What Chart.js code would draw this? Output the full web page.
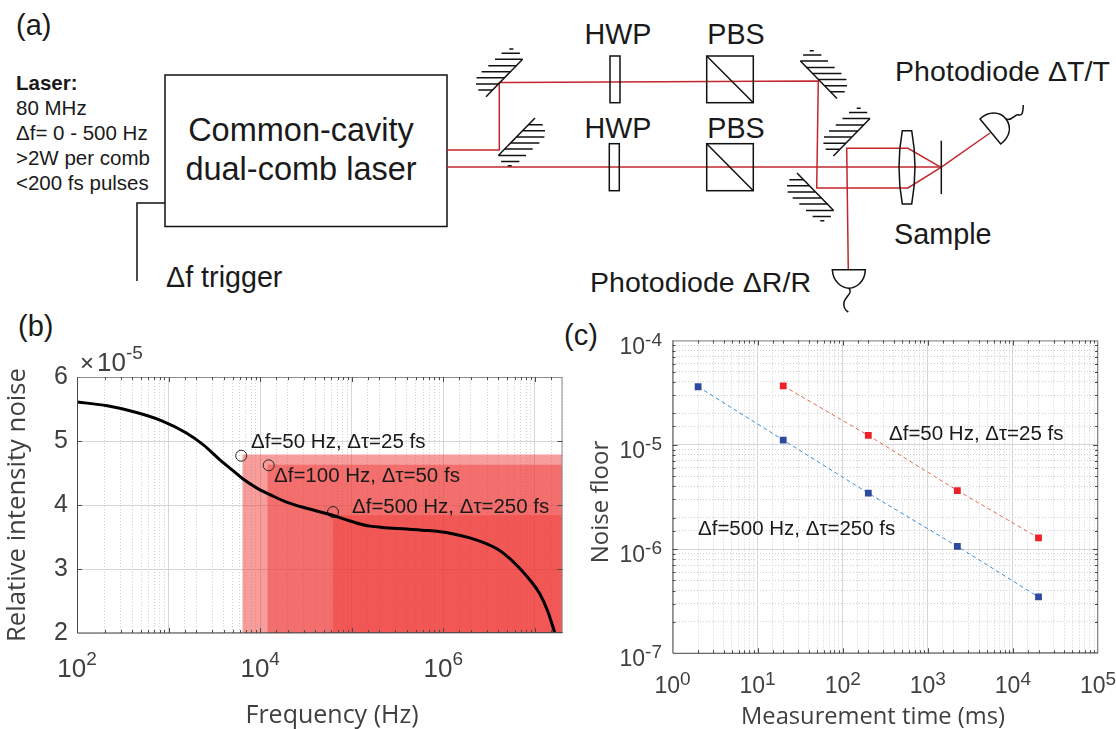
<!DOCTYPE html>
<html>
<head>
<meta charset="utf-8">
<title>Dual-comb laser noise</title>
<script src="https://cdn.jsdelivr.net/npm/chart.js@4/dist/chart.umd.min.js"></script>
<style>
  html, body { margin: 0; padding: 0; background: #fff; width: 1116px; height: 729px; overflow: hidden; }
  #sketch { position: absolute; left: 0; top: 0; }
  #sketch text { font-family: "Liberation Sans", Arial, sans-serif; fill: #1a1a1a; }
  #sketch .gear { fill: none; stroke: #111; stroke-width: 1.5; }
  #sketch .beam { fill: none; stroke: #c1272d; stroke-width: 1.5; }
  canvas { position: absolute; }
  #noiseChart { left: 0; top: 320px; }
  #floorChart { left: 565px; top: 310px; }
</style>
</head>
<body>

<svg id="sketch" width="1116" height="729" xmlns="http://www.w3.org/2000/svg">
  <defs>
    <g id="mirror" class="gear">
      <path d="M-18.3,18.7 L18.3,-18.7"/>
      <path d="M5,-29 h4 M-2.7,-24.7 h18.3 M-9.3,-18.7 h27.6 M-16,-12.3 h28.3 M-22.7,-6.3 h29 M-27.7,-0.3 h27.7 M-28.3,6 h22.3 M-26,12 h14"/>
    </g>
  </defs>

  <text x="16" y="35" font-size="29">(a)</text>
  <text x="18" y="336" font-size="29">(b)</text>
  <text x="564" y="345" font-size="29">(c)</text>

  <text x="16" y="90" font-size="20.5" font-weight="bold">Laser:</text>
  <text x="16" y="115" font-size="20.5">80 MHz</text>
  <text x="16" y="140" font-size="20.5">Δf= 0 - 500 Hz</text>
  <text x="16" y="165" font-size="20.5">&gt;2W per comb</text>
  <text x="16" y="190" font-size="20.5">&lt;200 fs pulses</text>

  <rect class="gear" x="165" y="75" width="282" height="151.5"/>
  <path class="gear" d="M165,203 H137 V281"/>
  <text x="301" y="141" font-size="32.5" text-anchor="middle">Common-cavity</text>
  <text x="301" y="180" font-size="32.5" text-anchor="middle">dual-comb laser</text>
  <text x="166" y="287" font-size="28.7">Δf trigger</text>

  <path class="beam" d="M447,150 H499.3 V82.5 L818.3,81 L816.7,188 H908 L941,167.3 L990,133"/>
  <path class="beam" d="M447,167 H941"/>
  <path class="beam" d="M941,167.3 L908,148.3 H846.7 L848.3,270"/>

  <use href="#mirror" transform="translate(504.3,78)"/>
  <use href="#mirror" transform="translate(516.7,136.7) rotate(180)"/>
  <use href="#mirror" transform="translate(818.7,79.7) scale(-1,1)"/>
  <use href="#mirror" transform="translate(815.3,191.7) scale(1,-1)"/>
  <use href="#mirror" transform="translate(851.7,137.3)"/>

  <rect class="gear" x="610" y="56" width="10" height="46.7"/>
  <rect class="gear" x="609.3" y="143.7" width="10" height="47"/>
  <rect class="gear" x="706.7" y="56" width="46.6" height="46.7"/>
  <path class="gear" d="M706.7,56 L753.3,102.7"/>
  <rect class="gear" x="706.7" y="143.7" width="46.6" height="47"/>
  <path class="gear" d="M706.7,143.7 L753.3,190.7"/>
  <text x="618" y="43.5" font-size="28.7" text-anchor="middle">HWP</text>
  <text x="736" y="43.5" font-size="28.7" text-anchor="middle">PBS</text>
  <text x="618" y="137.5" font-size="28.7" text-anchor="middle">HWP</text>
  <text x="736" y="137.5" font-size="28.7" text-anchor="middle">PBS</text>

  <path class="gear" d="M902.3,130.7 H911.7 Q918.3,167.3 911.7,204 H902.3 Q895.7,167.3 902.3,130.7 Z"/>
  <path class="gear" d="M941.3,140.7 V194"/>

  <path class="gear" d="M980,119 L1000.7,144 C1010,137 1012,127 1006,119 C1000,111 988,111 980,119 Z"/>
  <path class="gear" d="M1006,119 C1012,122 1015,113 1019,115 C1023,116 1023,110 1023.3,105"/>
  <path class="gear" d="M832.3,269.7 H865.3 C865,282 856,288 849,288.3 C842,288 833,282 832.3,269.7 Z"/>
  <path class="gear" d="M849,288.3 C853,293 846,296 844,302 C843.3,306 845,310 848.3,312"/>

  <text x="590" y="292" font-size="28.5" textLength="221">Photodiode ΔR/R</text>
  <text x="895" y="81" font-size="28.5" textLength="215">Photodiode ΔT/T</text>
  <text x="894" y="244" font-size="28.8">Sample</text>
</svg>

<canvas id="noiseChart" width="570" height="409"></canvas>
<canvas id="floorChart" width="551" height="419"></canvas>

<script>
// (b) relative intensity noise
const noiseFreq = [100, 214, 437, 832, 1549, 2399, 3802, 5012, 6457, 9333, 13340, 19050, 29920, 61660, 95500, 125900, 158500, 213800, 398100, 691800, 1175000, 2239000, 3802000, 5248000, 6918000, 8913000, 11220000, 13800000, 16500000];
const noiseLevel = [5.61, 5.55, 5.45, 5.32, 5.13, 4.94, 4.68, 4.54, 4.41, 4.26, 4.15, 4.05, 3.96, 3.84, 3.75, 3.70, 3.67, 3.65, 3.625, 3.60, 3.56, 3.46, 3.32, 3.17, 3.00, 2.82, 2.62, 2.34, 2.00];
const markerFreq = [6210, 12400, 62400];
const markerLevel = [4.77, 4.62, 3.89];
const bandLabels = ['Δf=50 Hz, Δτ=25 fs', 'Δf=100 Hz, Δτ=50 fs', 'Δf=500 Hz, Δτ=250 fs'];
const noiseYTicks = [2, 3, 4, 5, 6];
const noiseXExp = [2, 4, 6];

// (c) noise floor against measurement time
const timeSlow = [20, 200, 2225, 20000];
const floorSlow = [3.67e-5, 1.23e-5, 3.64e-6, 1.28e-6];
const timeFast = [2, 20, 200, 2225, 20000];
const floorFast = [3.6e-5, 1.11e-5, 3.43e-6, 1.06e-6, 3.47e-7];
const floorXExp = [0, 1, 2, 3, 4, 5];
const floorYExp = [-4, -5, -6, -7];

const GREY = '#404040';
const TICK_FONT = '"Liberation Sans", Arial, sans-serif';
const TITLE_FONT = '"Open Sans", "Liberation Sans", sans-serif';

function isDecade(v) {
    const l = Math.log10(v);
    return Math.abs(l - Math.round(l)) < 1e-6;
}

// "10" with a raised exponent, anchored at x
function drawPower(ctx, exp, x, y, size, expSize, lift, align) {
    ctx.textAlign = 'left';
    ctx.textBaseline = 'alphabetic';
    ctx.fillStyle = GREY;
    ctx.font = size + 'px ' + TICK_FONT;
    const w1 = ctx.measureText('10').width;
    ctx.font = expSize + 'px ' + TICK_FONT;
    const w2 = ctx.measureText(String(exp)).width;
    let start = x;
    if (align === 'right') start = x - w1 - w2;
    if (align === 'center') start = x - (w1 + w2) / 2;
    ctx.font = size + 'px ' + TICK_FONT;
    ctx.fillText('10', start, y);
    ctx.font = expSize + 'px ' + TICK_FONT;
    ctx.fillText(String(exp), start + w1, y - lift);
}

function drawTitle(ctx, text, x, y, size, rotated) {
    ctx.save();
    ctx.translate(x, y);
    if (rotated) ctx.rotate(-Math.PI / 2);
    ctx.fillStyle = GREY;
    ctx.textAlign = 'center';
    ctx.textBaseline = 'middle';
    ctx.font = size + 'px ' + TITLE_FONT;
    ctx.fillText(text, 0, 0);
    ctx.restore();
}

// box round the plot with matlab style inward ticks
const axisBox = {
    id: 'axisBox',
    afterDatasetsDraw(chart) {
        const { ctx, chartArea: a, scales: { x, y } } = chart;
        ctx.save();
        ctx.lineWidth = 1;
        ctx.strokeStyle = '#8c8c8c';
        ctx.beginPath();
        ctx.moveTo(a.left, a.top + 0.5);
        ctx.lineTo(a.right, a.top + 0.5);
        ctx.moveTo(a.right - 0.5, a.top);
        ctx.lineTo(a.right - 0.5, a.bottom);
        ctx.stroke();
        ctx.strokeStyle = '#4a4a4a';
        ctx.beginPath();
        ctx.moveTo(a.left + 0.5, a.top);
        ctx.lineTo(a.left + 0.5, a.bottom);
        ctx.lineTo(a.right, a.bottom - 0.5);
        x.ticks.filter(t => t.value > x.min && t.value < x.max).forEach(t => {
            const p = Math.round(x.getPixelForValue(t.value)) + 0.5;
            const len = isDecade(t.value) ? 5 : 3;
            ctx.moveTo(p, a.bottom);
            ctx.lineTo(p, a.bottom - len);
            ctx.moveTo(p, a.top);
            ctx.lineTo(p, a.top + len);
        });
        y.ticks.filter(t => t.value > y.min && t.value < y.max).forEach(t => {
            const p = Math.round(y.getPixelForValue(t.value)) + 0.5;
            const len = y.type === 'linear' || isDecade(t.value) ? 5 : 3;
            ctx.moveTo(a.left, p);
            ctx.lineTo(a.left + len, p);
            ctx.moveTo(a.right, p);
            ctx.lineTo(a.right - len, p);
        });
        ctx.stroke();
        ctx.restore();
    }
};

const noiseText = {
    id: 'noiseText',
    afterDraw(chart) {
        const { ctx, scales: { x } } = chart;
        ctx.save();
        noiseXExp.forEach(e => drawPower(ctx, e, x.getPixelForValue(10 ** e), 357, 26, 19, 12, 'center'));
        ctx.fillStyle = GREY;
        ctx.textAlign = 'left';
        ctx.font = '24px ' + TICK_FONT;
        ctx.fillText('×', 80, 51);
        drawPower(ctx, -5, 97, 51, 26, 19, 12, 'left');
        drawTitle(ctx, 'Frequency (Hz)', 332, 396, 25, false);
        drawTitle(ctx, 'Relative intensity noise', 18, 185, 25.7, true);
        ctx.fillStyle = '#1a1a1a';
        ctx.textAlign = 'left';
        ctx.font = '20.5px ' + TICK_FONT;
        ctx.fillText(bandLabels[0], 251, 128);
        ctx.fillText(bandLabels[1], 274, 162);
        ctx.fillText(bandLabels[2], 352, 193);
        ctx.restore();
    }
};

const floorText = {
    id: 'floorText',
    afterDraw(chart) {
        const { ctx, scales: { x, y } } = chart;
        ctx.save();
        floorXExp.forEach(e => drawPower(ctx, e, x.getPixelForValue(10 ** e), 383, 23, 19, 8, 'center'));
        floorYExp.forEach(e => drawPower(ctx, e, 97, y.getPixelForValue(10 ** e) + 13, 23, 19, 8, 'right'));
        drawTitle(ctx, 'Noise floor', 36, 192, 24, true);
        drawTitle(ctx, 'Measurement time (ms)', 308, 407, 23.7, false);
        ctx.fillStyle = '#1a1a1a';
        ctx.textAlign = 'left';
        ctx.font = '20.5px ' + TICK_FONT;
        ctx.fillText(bandLabels[0], 324, 130);
        ctx.fillText(bandLabels[2], 133, 225);
        ctx.restore();
    }
};

function gridColor(ctx) {
    return ctx.tick && isDecade(ctx.tick.value) ? '#d6d6d6' : '#cfcfcf';
}
function gridDash(ctx) {
    return ctx.tick && isDecade(ctx.tick.value) ? [] : [1, 2];
}

function shade(from, top, alpha) {
    return {
        data: [{ x: from, y: top }, { x: 2e7, y: top }],
        showLine: true,
        borderWidth: 0,
        pointRadius: 0,
        fill: 'start',
        backgroundColor: 'rgba(238, 50, 48, ' + alpha + ')'
    };
}

new Chart(document.getElementById('noiseChart'), {
    type: 'scatter',
    plugins: [axisBox, noiseText],
    data: {
        datasets: [
            {
                data: noiseFreq.map((f, i) => ({ x: f, y: noiseLevel[i] })),
                showLine: true,
                cubicInterpolationMode: 'monotone',
                borderColor: '#000',
                borderWidth: 3,
                pointRadius: 0
            },
            {
                data: markerFreq.map((f, i) => ({ x: f, y: markerLevel[i] })),
                pointStyle: 'circle',
                pointRadius: 5.5,
                pointBorderColor: '#222',
                pointBorderWidth: 1,
                pointBackgroundColor: 'rgba(0,0,0,0)',
                clip: false
            },
            shade(62400, 3.84, 0.41),
            shade(11970, 4.63, 0.42),
            shade(6380, 4.79, 0.48)
        ]
    },
    options: {
        responsive: false,
        animation: false,
        layout: { padding: { top: 57, right: 7.5 } },
        plugins: { legend: { display: false }, tooltip: { enabled: false } },
        scales: {
            x: {
                type: 'logarithmic',
                min: 100,
                max: 2e7,
                afterFit(s) { s.height = 96; },
                ticks: { display: false, autoSkip: false },
                grid: { color: gridColor, lineWidth: 1, drawTicks: false },
                border: { display: false, dash: gridDash }
            },
            y: {
                min: 2,
                max: 6,
                afterBuildTicks(s) { s.ticks = noiseYTicks.map(v => ({ value: v })); },
                afterFit(s) { s.width = 77; },
                ticks: { color: GREY, font: { family: TICK_FONT, size: 25 }, padding: 9 },
                grid: { color: '#d6d6d6', lineWidth: 1, drawTicks: false },
                border: { display: false }
            }
        }
    }
});

new Chart(document.getElementById('floorChart'), {
    type: 'scatter',
    plugins: [axisBox, floorText],
    data: {
        datasets: [
            {
                data: timeSlow.map((t, i) => ({ x: t, y: floorSlow[i] })),
                showLine: true,
                borderColor: '#e3694e',
                borderWidth: 1,
                borderDash: [4, 3],
                pointStyle: 'rect',
                pointRadius: 4.8,
                pointBackgroundColor: '#ee2028',
                pointBorderWidth: 0
            },
            {
                data: timeFast.map((t, i) => ({ x: t, y: floorFast[i] })),
                showLine: true,
                borderColor: '#3f8fcf',
                borderWidth: 1,
                borderDash: [4, 3],
                pointStyle: 'rect',
                pointRadius: 4.8,
                pointBackgroundColor: '#2e4a9e',
                pointBorderWidth: 0
            }
        ]
    },
    options: {
        responsive: false,
        animation: false,
        layout: { padding: { top: 30.5, right: 18 } },
        plugins: { legend: { display: false }, tooltip: { enabled: false } },
        scales: {
            x: {
                type: 'logarithmic',
                min: 1,
                max: 1e5,
                afterFit(s) { s.height = 75.7; },
                ticks: { display: false, autoSkip: false },
                grid: { color: gridColor, lineWidth: 1, drawTicks: false },
                border: { display: false, dash: gridDash }
            },
            y: {
                type: 'logarithmic',
                min: 1e-7,
                max: 1e-4,
                afterFit(s) { s.width = 107.5; },
                ticks: { display: false, autoSkip: false },
                grid: { color: gridColor, lineWidth: 1, drawTicks: false },
                border: { display: false, dash: gridDash }
            }
        }
    }
});
</script>
</body>
</html>
